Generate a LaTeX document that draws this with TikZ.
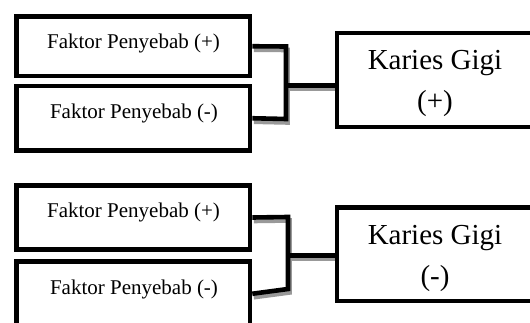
\documentclass[tikz,border=0pt]{standalone}
\usepackage{fontspec}
\setmainfont{Liberation Serif}
\begin{document}
\begin{tikzpicture}[x=1pt,y=-1pt,
  box/.style={draw=black,line width=4.6pt,rectangle,inner sep=0pt},
  small/.style={font=\fontsize{21}{25}\selectfont,inner sep=0pt},
  big/.style={font=\fontsize{29}{41}\selectfont,align=center,inner sep=0pt},
  conn/.style={draw=black,line width=4.6pt,line join=miter},
  shad/.style={draw=black!40,line width=4.6pt,transform canvas={shift={(1.5pt,-3.5pt)}}}]
\useasboundingbox (0,0) rectangle (530,323);
\clip (0,0) rectangle (530,323);
% top group boxes
\node[box,minimum width=233.5pt,minimum height=59.5pt] (a1) at (133.25,46.25) {};
\node[box,minimum width=233.5pt,minimum height=64.5pt] (a2) at (133.25,118.25) {};
\node[box,minimum width=196pt,minimum height=94pt] (b1) at (435,80) {};
\node[small] (ta1) at (133.5,43) {Faktor Penyebab (+)};
\node[small] (ta2) at (134,113) {Faktor Penyebab (-)};
\node[big] (tb1) at (435,83) {Karies Gigi\\(+)};
% bottom group boxes
\node[box,minimum width=233.5pt,minimum height=64pt] (c1) at (133.25,217.5) {};
\node[box,minimum width=233.5pt,minimum height=64.5pt] (c2) at (133.25,293.75) {};
\node[box,minimum width=196pt,minimum height=93.5pt] (d1) at (435,254.25) {};
\node[small] (tc1) at (133.5,212) {Faktor Penyebab (+)};
\node[small] (tc2) at (134,289) {Faktor Penyebab (-)};
\node[big] (td1) at (435,258) {Karies Gigi\\(-)};
% junction coordinates
\coordinate (t1) at (286,46.5);
\coordinate (u1) at (286,119);
\coordinate (j1) at (286,85.5);
\coordinate (t2) at (288,217);
\coordinate (u2) at (288,289);
\coordinate (j2) at (288,255.5);
% shadows
\draw[shad] (a1.east) -- (t1) -- (u1) -- (a2.east);
\draw[shad] (j1) -- (j1 -| b1.west);
\draw[shad] (c1.east) -- (t2) -- (u2) -- (c2.east);
\draw[shad] (j2) -- (j2 -| d1.west);
% connectors
\draw[conn] (a1.east) -- (t1) -- (u1) -- (a2.east);
\draw[conn] (j1) -- (j1 -| b1.west);
\draw[conn] (c1.east) -- (t2) -- (u2) -- (c2.east);
\draw[conn] (j2) -- (j2 -| d1.west);
% redraw box borders on top of shadows
\node[box,minimum width=233.5pt,minimum height=59.5pt] (a1b) at (133.25,46.25) {};
\node[box,minimum width=233.5pt,minimum height=64.5pt] (a2b) at (133.25,118.25) {};
\node[box,minimum width=196pt,minimum height=94pt] (b1b) at (435,80) {};
\node[box,minimum width=233.5pt,minimum height=64pt] (c1b) at (133.25,217.5) {};
\node[box,minimum width=233.5pt,minimum height=64.5pt] (c2b) at (133.25,293.75) {};
\node[box,minimum width=196pt,minimum height=93.5pt] (d1b) at (435,254.25) {};
\end{tikzpicture}
\end{document}
